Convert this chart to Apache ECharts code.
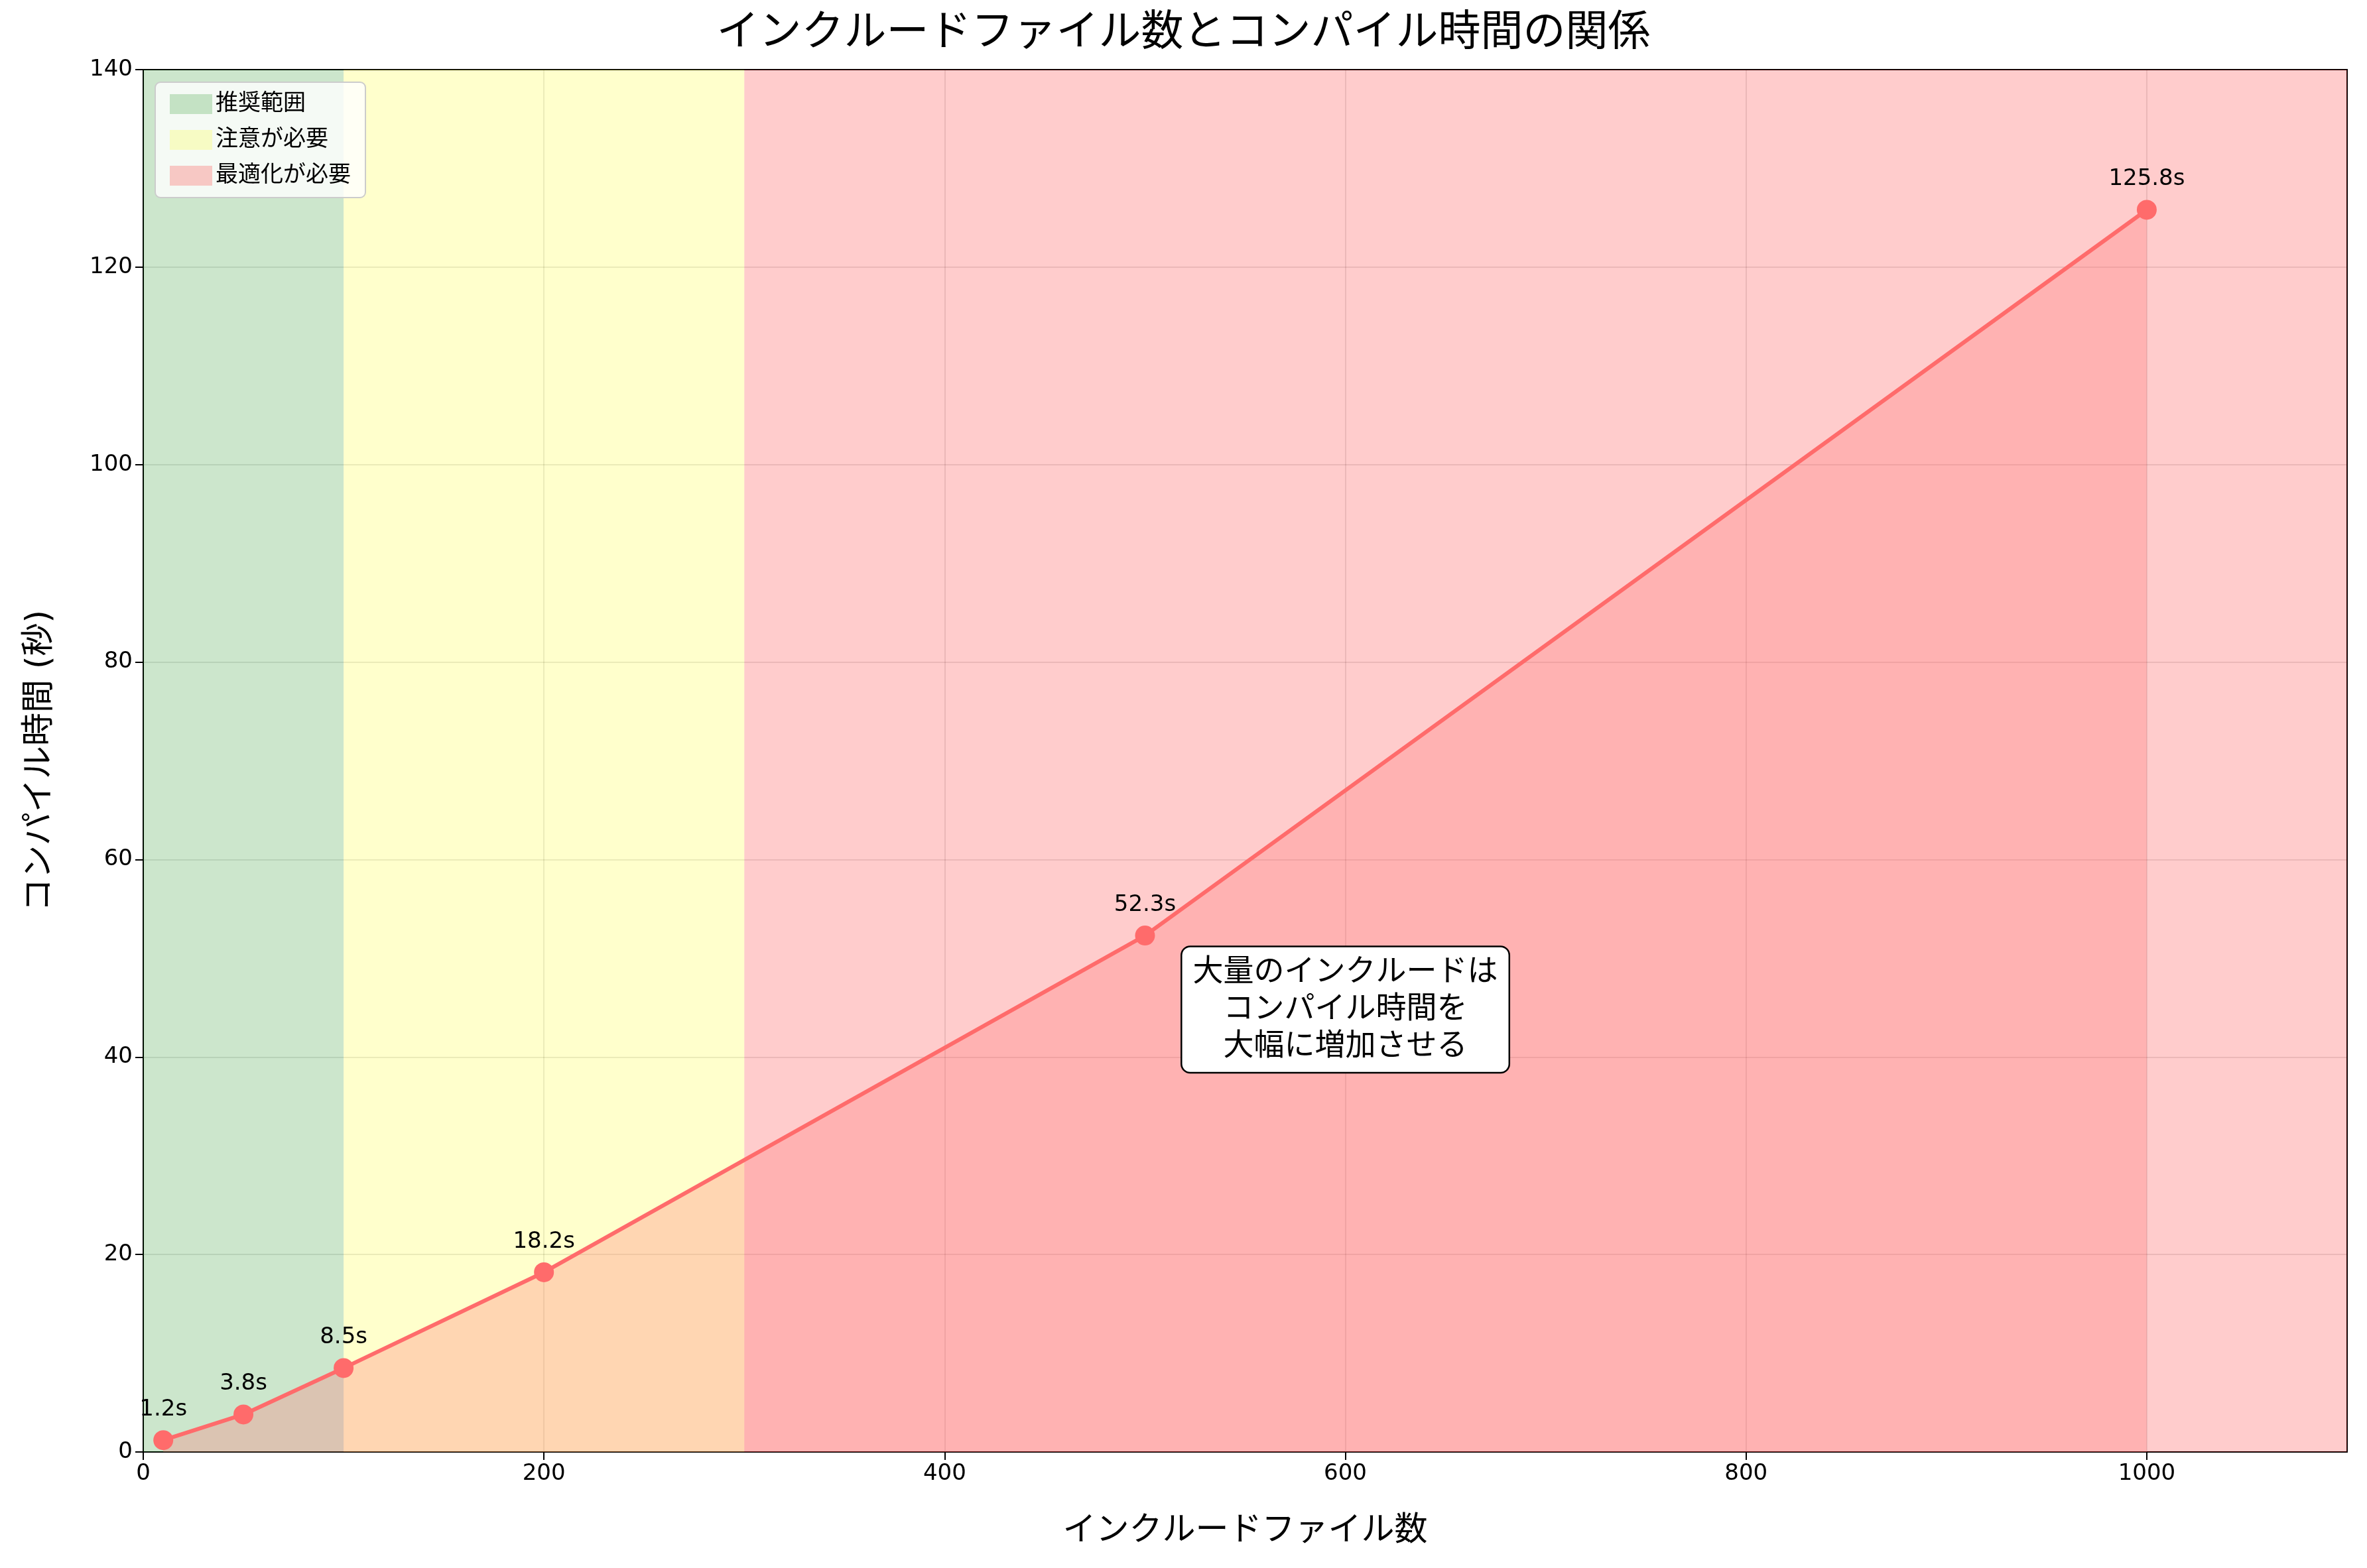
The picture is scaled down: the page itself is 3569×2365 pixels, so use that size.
<!DOCTYPE html>
<html>
<head>
<meta charset="utf-8">
<script src="https://cdn.jsdelivr.net/npm/echarts@6/dist/echarts.min.js"></script>
</head>
<body style="margin:0">
<div id="chart" style="width:3569px;height:2365px"></div>
<script>
var fileCounts = [10, 50, 100, 200, 500, 1000];
var compileTimes = [1.2, 3.8, 8.5, 18.2, 52.3, 125.8];
var zoneNames = ['推奨範囲', '注意が必要', '最適化が必要'];
var zoneRanges = [[0, 100], [100, 300], [300, 1100]];
var zoneColors = ['rgba(0,128,0,0.2)', 'rgba(255,255,0,0.2)', 'rgba(255,0,0,0.2)'];
var note = '大量のインクルードは\nコンパイル時間を\n大幅に増加させる';
var notePos = [600, 44.8];

var font = '"DejaVu Sans", "Noto Sans CJK JP", sans-serif';
var chart = echarts.init(document.getElementById('chart'));

var zoneSeries = zoneNames.map(function (name, i) {
    return {
        name: name, type: 'line', data: [], z: 1,
        itemStyle: { color: zoneColors[i], borderColor: zoneColors[i].replace('0.2)', '0.5)') },
        markArea: {
            silent: true,
            itemStyle: { color: zoneColors[i] },
            data: [[{ xAxis: zoneRanges[i][0] }, { xAxis: zoneRanges[i][1] }]]
        }
    };
});

chart.setOption({
    textStyle: { fontFamily: font },
    animation: false,
    title: {
        text: 'インクルードファイル数とコンパイル時間の関係',
        left: 'center', top: 14,
        textStyle: { fontSize: 64, fontWeight: 'normal', color: '#000', fontFamily: font }
    },
    legend: {
        data: zoneNames, orient: 'vertical', left: 234, top: 124,
        icon: 'rect', itemWidth: 64, itemHeight: 30, itemGap: 20,
        backgroundColor: 'rgba(255,255,255,0.8)', borderColor: '#ccc', borderWidth: 2, borderRadius: 8,
        padding: [16, 22], textStyle: { fontSize: 34, color: '#000' }
    },
    grid: { left: 216, right: 30, top: 105, bottom: 175, show: true, borderColor: '#000', borderWidth: 2, backgroundColor: 'transparent' },
    xAxis: {
        type: 'value', min: 0, max: 1100, interval: 200,
        name: 'インクルードファイル数', nameLocation: 'middle', nameGap: 95,
        nameTextStyle: { fontSize: 50, color: '#000' },
        axisLine: { show: true, lineStyle: { color: '#000', width: 2 } },
        axisTick: { show: true, length: 12, lineStyle: { color: '#000', width: 2 } },
        axisLabel: { fontSize: 34, color: '#000', margin: 16, showMaxLabel: false, formatter: function (v) { return String(v); } },
        splitLine: { lineStyle: { color: 'rgba(0,0,0,0.1)', width: 2 } }
    },
    yAxis: {
        type: 'value', min: 0, max: 140, interval: 20,
        name: 'コンパイル時間 (秒)', nameLocation: 'middle', nameGap: 130,
        nameTextStyle: { fontSize: 50, color: '#000' },
        axisLine: { show: true, lineStyle: { color: '#000', width: 2 } },
        axisTick: { show: true, length: 12, lineStyle: { color: '#000', width: 2 } },
        axisLabel: { fontSize: 34, color: '#000', margin: 16 },
        splitLine: { lineStyle: { color: 'rgba(0,0,0,0.1)', width: 2 } }
    },
    series: zoneSeries.concat([{
        name: 'compile', type: 'line', z: 5,
        data: fileCounts.map(function (x, i) { return [x, compileTimes[i]]; }),
        lineStyle: { color: '#ff6b6b', width: 6 },
        itemStyle: { color: '#ff6b6b' },
        symbol: 'circle', symbolSize: 30,
        areaStyle: { color: 'rgba(255,107,107,0.4)' },
        label: {
            show: true, position: 'top', distance: 14, fontSize: 34, color: '#000',
            formatter: function (p) { return p.value[1] + 's'; }
        },
        markPoint: {
            symbol: 'rect', symbolSize: 1, itemStyle: { color: 'transparent' },
            label: {
                show: true, position: 'inside', formatter: note, fontSize: 46, lineHeight: 56,
                color: '#000', align: 'center', backgroundColor: '#fff',
                borderColor: '#000', borderWidth: 2.5, borderRadius: 12, padding: [10, 16]
            },
            data: [{ coord: notePos }]
        }
    }])
});
</script>
</body>
</html>
